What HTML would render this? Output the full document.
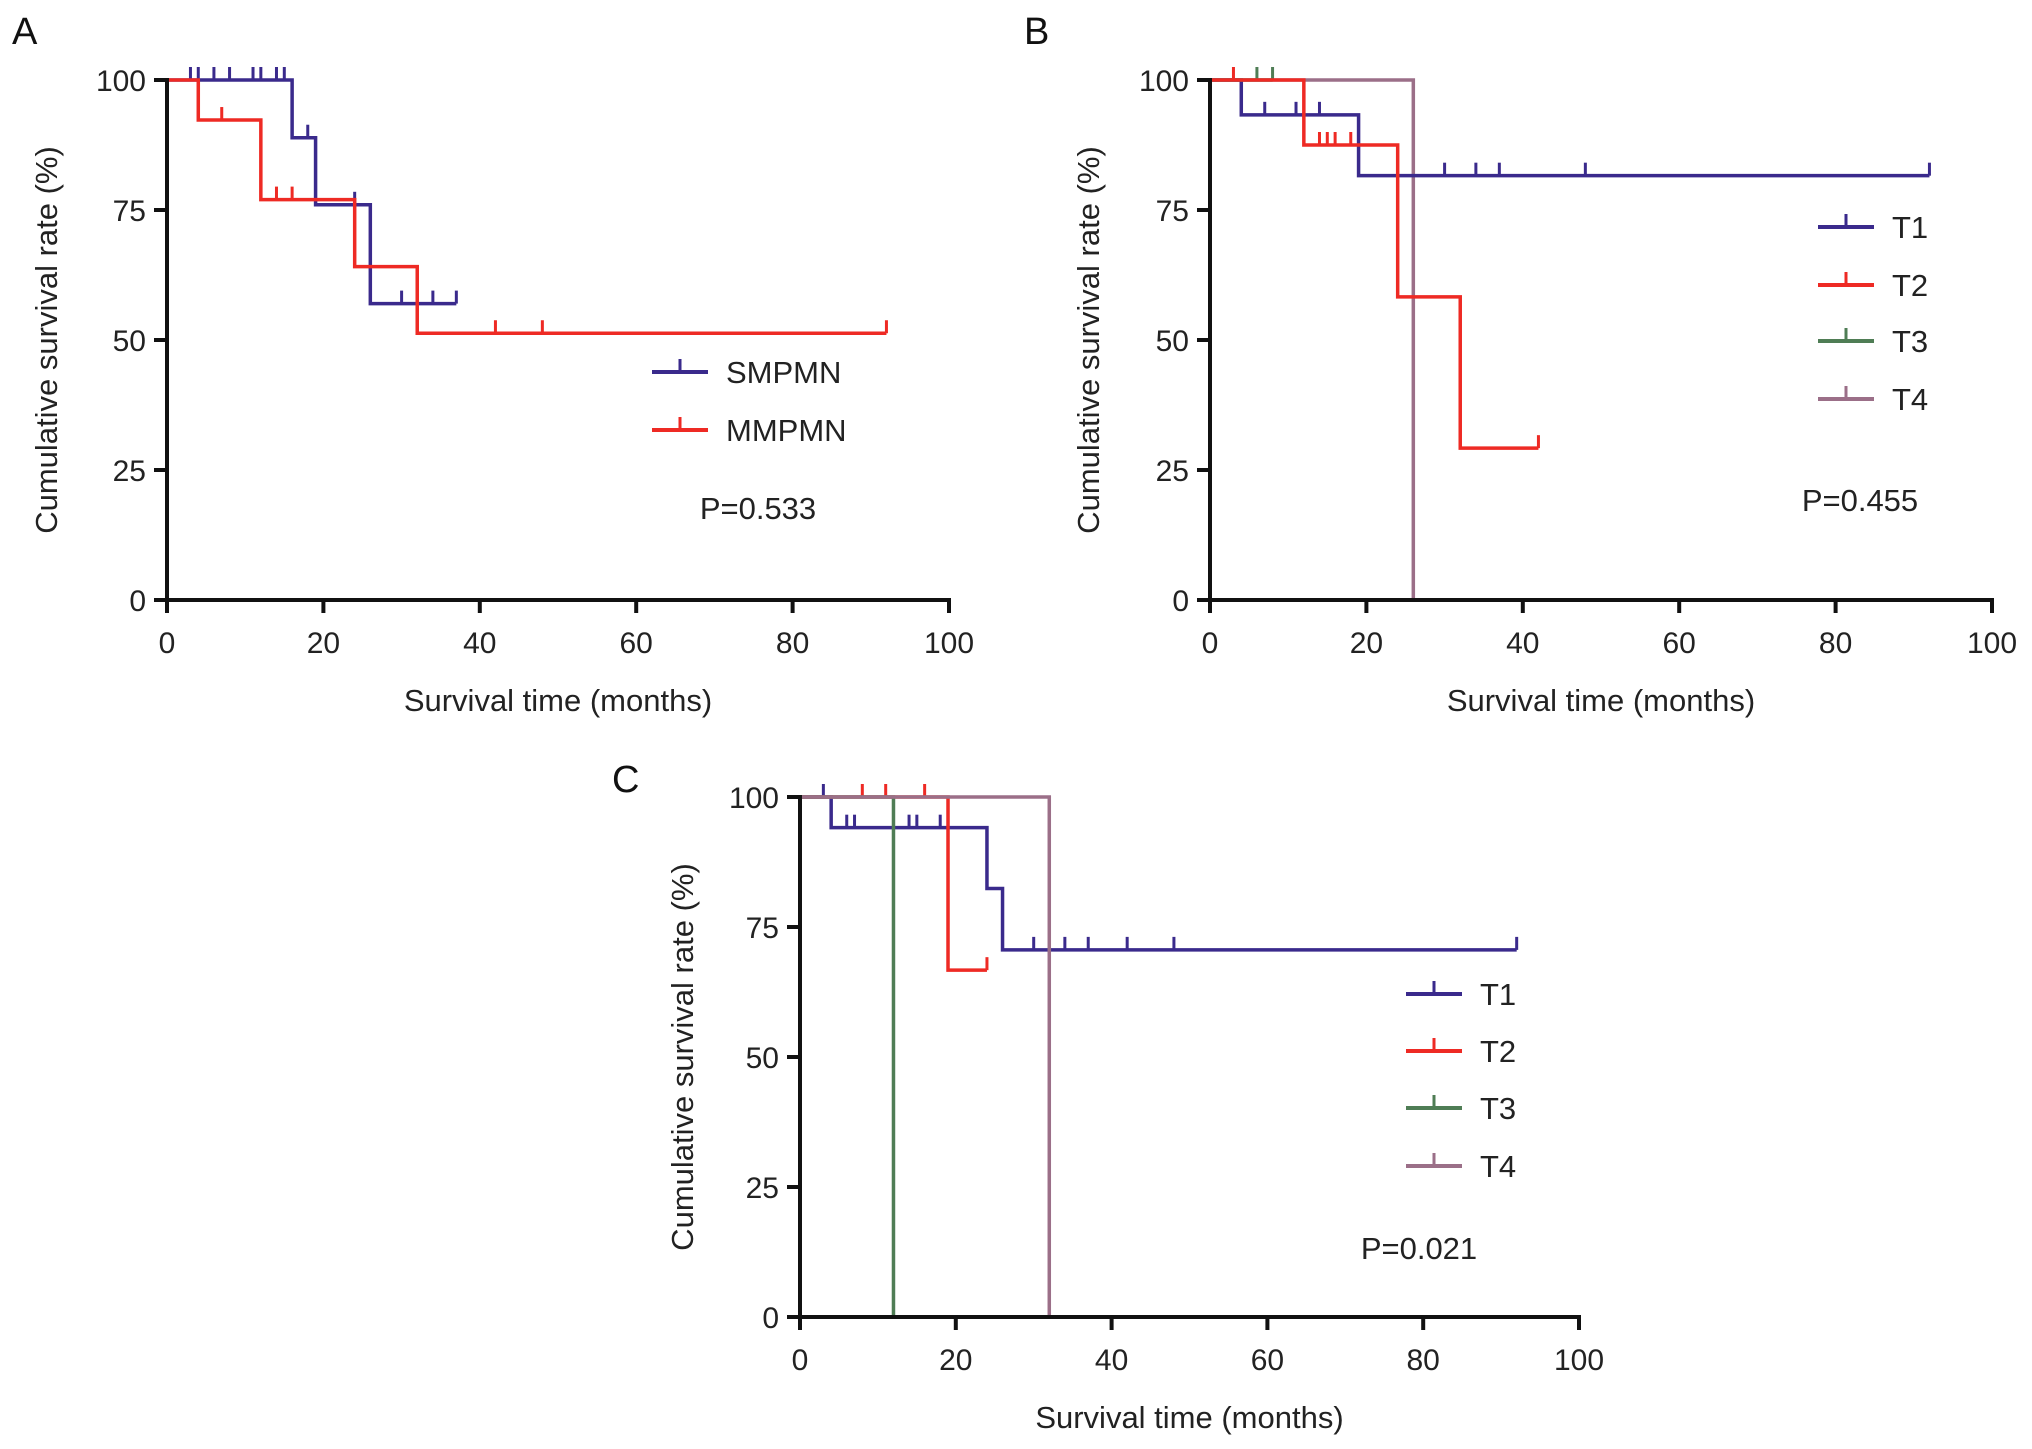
<!DOCTYPE html>
<html><head><meta charset="utf-8">
<style>
html,body{margin:0;padding:0;background:#fff;}
svg{display:block;font-family:"Liberation Sans",Arial,sans-serif;}
</style></head>
<body>
<svg id="fig" width="2032" height="1449" viewBox="0 0 2032 1449"></svg>
<script>
// ---------- data ----------
const xTicks = [0,20,40,60,80,100];
const yTicks = [0,25,50,75,100];

// Panel A
const aSmpmnTimes = [0,16,19,26,37];
const aSmpmnSurv  = [100,88.9,76,57,57];
const aSmpmnCensT = [3,4,6,8,11,12,14,15,18,24,30,34,37];
const aMmpmnTimes = [0,4,12,24,32,92];
const aMmpmnSurv  = [100,92.3,77,64.1,51.3,51.3];
const aMmpmnCensT = [7,14,16,42,48,92];

// Panel B
const bT1Times = [0,4,19,92];
const bT1Surv  = [100,93.3,81.6,81.6];
const bT1CensT = [7,11,14,30,34,37,48,92];
const bT2Times = [0,12,24,32,42];
const bT2Surv  = [100,87.5,58.3,29.2,29.2];
const bT2CensT = [3,14,15,16,18,42];
const bT3Times = [0,8];
const bT3Surv  = [100,100];
const bT3CensT = [6,8];
const bT4Times = [0,26];
const bT4Surv  = [100,0];
const bT4CensT = [];

// Panel C
const cT1Times = [0,4,24,26,92];
const cT1Surv  = [100,94.1,82.4,70.6,70.6];
const cT1CensT = [3,6,7,14,15,18,30,34,37,42,48,92];
const cT2Times = [0,19,24];
const cT2Surv  = [100,66.7,66.7];
const cT2CensT = [8,11,16,24];
const cT3Times = [0,12];
const cT3Surv  = [100,0];
const cT3CensT = [];
const cT4Times = [0,32];
const cT4Surv  = [100,0];
const cT4CensT = [];

const PURPLE="#3a2a8c", RED="#ee2a24", GREEN="#4f7d55", MAUVE="#9b6f88";
const NS="http://www.w3.org/2000/svg";
const svg=document.getElementById('fig');

function el(tag,attrs,parent,text){
  const e=document.createElementNS(NS,tag);
  for(const k in attrs)e.setAttribute(k,attrs[k]);
  if(text!==undefined)e.textContent=text;
  (parent||svg).appendChild(e);return e;
}

function survAt(times,surv,t){
  let s=surv[0];
  for(let i=0;i<times.length;i++){ if(times[i]<=t) s=surv[i]; }
  return s;
}

function panel(cfg){
  const g=el('g',{});
  
  
  const X=v=>cfg.x0+(cfg.x1-cfg.x0)*v/100;
  const Y=v=>cfg.y0+(cfg.y1-cfg.y0)*v/100;

  cfg.series.forEach(s=>{
    const sg=el('g',{},g);
    
    
    let d='M'+X(s.times[0])+','+Y(s.surv[0]);
    for(let i=1;i<s.times.length;i++){
      d+=' H'+X(s.times[i])+' V'+Y(s.surv[i]);
    }
    const p=el('path',{d:d,fill:'none',stroke:s.color,'stroke-width':3.5,'stroke-linejoin':'miter'},sg);
    
    
    s.cens.forEach(t=>{
      const v=survAt(s.times,s.surv,t);
      const c=el('line',{x1:X(t),x2:X(t),y1:Y(v),y2:Y(v)-13,stroke:s.color,'stroke-width':3},sg);
      
      
    });
  });

  const ax=el('g',{},g);
  
  
  el('line',{x1:X(0),x2:X(0),y1:Y(100)-2,y2:Y(0)+2,stroke:'#111','stroke-width':4},ax);
  el('line',{x1:X(0)-2,x2:X(100)+2,y1:Y(0),y2:Y(0),stroke:'#111','stroke-width':4},ax);
  xTicks.forEach(t=>{
    el('line',{x1:X(t),x2:X(t),y1:Y(0),y2:Y(0)+13,stroke:'#111','stroke-width':4},ax);
    const lb=el('text',{x:X(t),y:Y(0)+53,'font-size':30,'text-anchor':'middle',fill:'#222'},ax,String(t));
    
    
  });
  yTicks.forEach(t=>{
    el('line',{x1:X(0)-13,x2:X(0),y1:Y(t),y2:Y(t),stroke:'#111','stroke-width':4},ax);
    const lb=el('text',{x:X(0)-21,y:Y(t)+11,'font-size':30,'text-anchor':'end',fill:'#222'},ax,String(t));
    
    
  });
  const xt=el('text',{x:(X(0)+X(100))/2,y:Y(0)+111,'font-size':31,'text-anchor':'middle',fill:'#222'},g,'Survival time (months)');
  
  
  const yc=(Y(0)+Y(100))/2;
  const yt=el('text',{x:cfg.ytx,y:yc,'font-size':31,'text-anchor':'middle',fill:'#222',transform:'rotate(-90 '+cfg.ytx+' '+yc+')'},g,'Cumulative survival rate (%)');
  
  

  const pl=el('text',{x:cfg.lx,y:cfg.ly,'font-size':38,fill:'#111'},g,cfg.letter);
  
  

  cfg.legend.forEach((e,i)=>{
    const lg=el('g',{},g);
    
    
    const yy=cfg.legY[i];
    el('line',{x1:cfg.legX,x2:cfg.legX+56,y1:yy,y2:yy,stroke:e.color,'stroke-width':4},lg);
    el('line',{x1:cfg.legX+28,x2:cfg.legX+28,y1:yy,y2:yy-13,stroke:e.color,'stroke-width':3},lg);
    el('text',{x:cfg.legX+74,y:yy+11,'font-size':31,fill:'#222'},lg,e.label);
  });
  const pv=el('text',{x:cfg.px,y:cfg.py,'font-size':31,'text-anchor':'middle',fill:'#222'},g,cfg.pval);
  
  
}

panel({name:'panel-a',letter:'A',lx:12,ly:44,x0:167,x1:949,y0:600,y1:80,ytx:57,
  legX:652,legY:[372,430],px:758,py:519,pval:'P=0.533',
  legend:[{label:'SMPMN',color:PURPLE},{label:'MMPMN',color:RED}],
  series:[
    {id:'smpmn',color:PURPLE,times:aSmpmnTimes,surv:aSmpmnSurv,cens:aSmpmnCensT},
    {id:'mmpmn',color:RED,times:aMmpmnTimes,surv:aMmpmnSurv,cens:aMmpmnCensT}
  ]});

panel({name:'panel-b',letter:'B',lx:1024,ly:44,x0:1210,x1:1992,y0:600,y1:80,ytx:1099,
  legX:1818,legY:[227,285,341,399],px:1860,py:511,pval:'P=0.455',
  legend:[{label:'T1',color:PURPLE},{label:'T2',color:RED},{label:'T3',color:GREEN},{label:'T4',color:MAUVE}],
  series:[
    {id:'b-t4',color:MAUVE,times:bT4Times,surv:bT4Surv,cens:bT4CensT},
    {id:'b-t1',color:PURPLE,times:bT1Times,surv:bT1Surv,cens:bT1CensT},
    {id:'b-t3',color:GREEN,times:bT3Times,surv:bT3Surv,cens:bT3CensT},
    {id:'b-t2',color:RED,times:bT2Times,surv:bT2Surv,cens:bT2CensT}
  ]});

panel({name:'panel-c',letter:'C',lx:612,ly:792,x0:800,x1:1579,y0:1317,y1:797,ytx:693,
  legX:1406,legY:[994,1051,1108,1166],px:1419,py:1259,pval:'P=0.021',
  legend:[{label:'T1',color:PURPLE},{label:'T2',color:RED},{label:'T3',color:GREEN},{label:'T4',color:MAUVE}],
  series:[
    {id:'c-t1',color:PURPLE,times:cT1Times,surv:cT1Surv,cens:cT1CensT},
    {id:'c-t2',color:RED,times:cT2Times,surv:cT2Surv,cens:cT2CensT},
    {id:'c-t3',color:GREEN,times:cT3Times,surv:cT3Surv,cens:cT3CensT},
    {id:'c-t4',color:MAUVE,times:cT4Times,surv:cT4Surv,cens:cT4CensT}
  ]});
</script>
</body></html>
